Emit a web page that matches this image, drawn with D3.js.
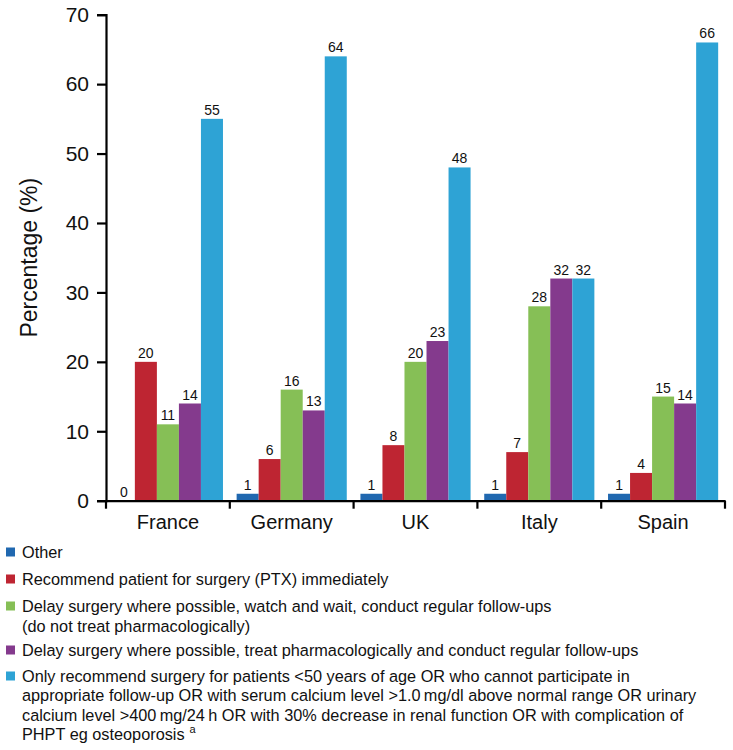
<!DOCTYPE html>
<html>
<head>
<meta charset="utf-8">
<script src="https://cdn.jsdelivr.net/npm/d3@7"></script>
<style>
  html, body { margin: 0; padding: 0; background: #fff; }
  svg { display: block; font-family: "Liberation Sans", Arial, sans-serif; }
</style>
</head>
<body>
<svg id="chart" width="733" height="750"></svg>
<script>
const countries = ["France", "Germany", "UK", "Italy", "Spain"];
const seriesNames = ["Other", "Recommend", "DelayWatch", "DelayTreat", "OnlyRecommend"];
const otherVals = [0, 1, 1, 1, 1];
const recommendVals = [20, 6, 8, 7, 4];
const delayWatchVals = [11, 16, 20, 28, 15];
const delayTreatVals = [14, 13, 23, 32, 14];
const onlyRecommendVals = [55, 64, 48, 32, 66];
const yTicks = [0, 10, 20, 30, 40, 50, 60, 70];
const colors = ["#2068b0", "#be2532", "#86bf56", "#843a8d", "#2ea3d5"];
const legendItems = [
  ["Other"],
  ["Recommend patient for surgery (PTX) immediately"],
  ["Delay surgery where possible, watch and wait, conduct regular follow-ups", "(do not treat pharmacologically)"],
  ["Delay surgery where possible, treat pharmacologically and conduct regular follow-ups"],
  ["Only recommend surgery for patients <50 years of age OR who cannot participate in",
   "appropriate follow-up OR with serum calcium level >1.0\u2009mg/dl  above normal range OR urinary",
   "calcium level >400\u2009mg/24\u2009h OR with 30% decrease in renal function OR with complication of",
   "PHPT eg osteoporosis"]
];

(function () {
const allVals = [otherVals, recommendVals, delayWatchVals, delayTreatVals, onlyRecommendVals];
const data = countries.map((c, i) => ({
  country: c,
  values: seriesNames.map((s, j) => ({ key: s, idx: j, value: allVals[j][i] }))
}));

const svg = d3.select("#chart");
const mLeft = 106, mRight = 725, mTop = 14.7, mBottom = 500.7;

const x = d3.scaleBand().domain(countries).range([mLeft, mRight]).padding(0);
const xi = d3.scaleBand().domain(seriesNames).range([0, x.bandwidth()]).paddingInner(0).paddingOuter(0.31);
const y = d3.scaleLinear().domain([0, 70]).range([mBottom, mTop]);

// bars
const groups = svg.append("g").selectAll("g").data(data).join("g")
  .attr("transform", d => `translate(${x(d.country)},0)`);
groups.selectAll("rect").data(d => d.values).join("rect")
  .attr("x", d => xi(d.key))
  .attr("width", xi.bandwidth())
  .attr("y", d => y(d.value))
  .attr("height", d => y(0) - y(d.value))
  .attr("fill", d => colors[d.idx]);
groups.selectAll("text").data(d => d.values).join("text")
  .attr("x", d => xi(d.key) + xi.bandwidth() / 2)
  .attr("y", d => y(d.value) - 4)
  .attr("text-anchor", "middle")
  .attr("font-size", 14)
  .attr("fill", "#111")
  .text(d => d.value);

// y axis
const yAxis = svg.append("g").attr("transform", `translate(${mLeft},0)`)
  .call(d3.axisLeft(y).tickValues(yTicks).tickSize(9).tickPadding(8));
yAxis.select(".domain").attr("stroke-width", 2.2).attr("stroke", "#000");
yAxis.selectAll(".tick line").attr("stroke-width", 2.2).attr("stroke", "#000");
yAxis.selectAll(".tick text").attr("font-size", 21).attr("fill", "#111")
  .attr("font-family", "Liberation Sans, Arial, sans-serif");

// x axis
const xAxis = svg.append("g").attr("transform", `translate(0,${mBottom})`)
  .call(d3.axisBottom(x).tickSize(0).tickPadding(14));
xAxis.select(".domain").attr("stroke-width", 2.2).attr("stroke", "#000");
xAxis.selectAll(".tick text").attr("font-size", 20).attr("fill", "#111")
  .attr("font-family", "Liberation Sans, Arial, sans-serif");
const bounds = countries.map(c => x(c)).concat([x(countries[countries.length - 1]) + x.bandwidth()]);
xAxis.selectAll("line.bound").data(bounds).join("line")
  .attr("class", "bound")
  .attr("x1", d => d).attr("x2", d => d)
  .attr("y1", 0).attr("y2", 8)
  .attr("stroke", "#000").attr("stroke-width", 2.2);

// y title
svg.append("text")
  .attr("transform", `translate(37,${(mTop + mBottom) / 2}) rotate(-90)`)
  .attr("text-anchor", "middle")
  .attr("font-size", 23)
  .attr("fill", "#111")
  .text("Percentage (%)");

// legend
const itemTops = [552, 579, 606, 650, 676];
const lineH = 19.5;
const legend = svg.append("g");
legendItems.forEach((lines, i) => {
  legend.append("rect")
    .attr("x", 6).attr("y", itemTops[i] - 4.5)
    .attr("width", 9).attr("height", 9)
    .attr("fill", colors[i]);
  lines.forEach((ln, k) => {
    const t = legend.append("text")
      .attr("x", 22)
      .attr("y", itemTops[i] + k * (i === 2 ? 20 : lineH) + 5.5)
      .attr("font-size", 16.3)
      .attr("fill", "#111")
      .text(ln);
    if (i === 4 && k === lines.length - 1) {
      t.append("tspan").attr("dx", 5).attr("dy", -7).attr("font-size", 11).text("a");
    }
  });
});
})();
</script>
</body>
</html>
